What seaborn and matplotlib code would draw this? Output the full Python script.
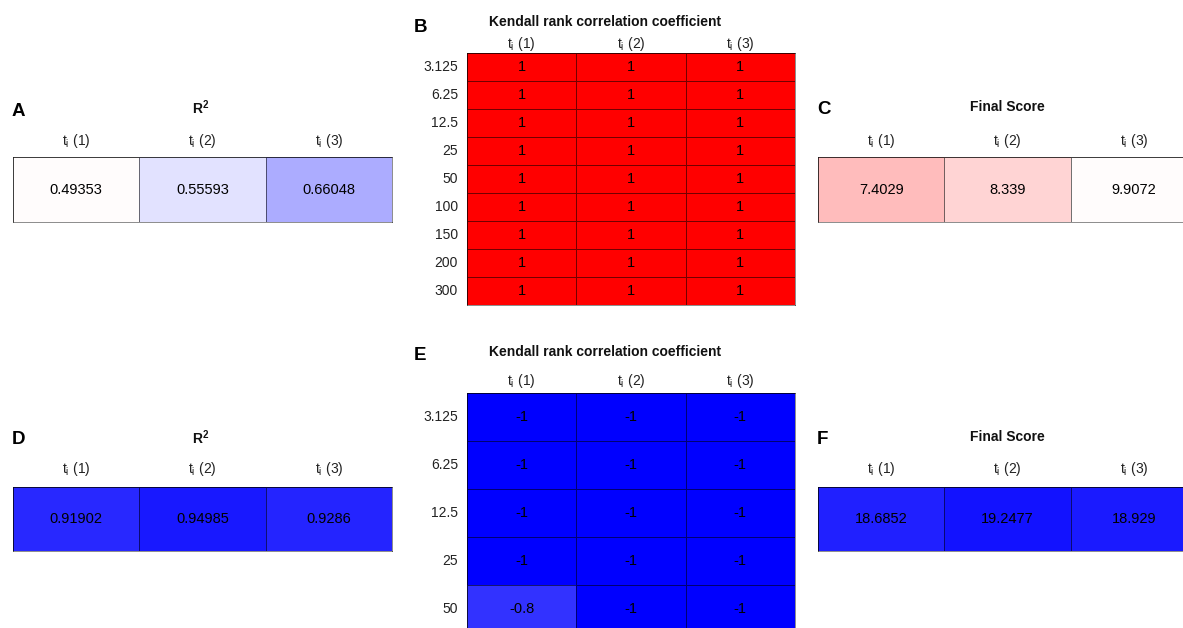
import numpy as np
import pandas as pd
import matplotlib
matplotlib.use("Agg")
import matplotlib.pyplot as plt
import seaborn as sns

# ---------------- data ----------------
col_labels = [r"$\mathrm{t_i}$ (1)", r"$\mathrm{t_i}$ (2)", r"$\mathrm{t_i}$ (3)"]

r2_top = [0.49353, 0.55593, 0.66048]
score_top = [7.4029, 8.339, 9.9072]
conc_top = ["3.125", "6.25", "12.5", "25", "50", "100", "150", "200", "300"]
kendall_top_c1 = [1, 1, 1, 1, 1, 1, 1, 1, 1]
kendall_top_c2 = [1, 1, 1, 1, 1, 1, 1, 1, 1]
kendall_top_c3 = [1, 1, 1, 1, 1, 1, 1, 1, 1]

r2_bottom = [0.91902, 0.94985, 0.9286]
score_bottom = [18.6852, 19.2477, 18.929]
conc_bottom = ["3.125", "6.25", "12.5", "25", "50"]
kendall_bot_c1 = [-1, -1, -1, -1, -0.8]
kendall_bot_c2 = [-1, -1, -1, -1, -1]
kendall_bot_c3 = [-1, -1, -1, -1, -1]

# ---------------- style ----------------
sns.set_theme(style="white")
plt.rcParams["font.family"] = ["Liberation Sans", "DejaVu Sans"]
plt.rcParams["mathtext.fontset"] = "custom"
plt.rcParams["mathtext.rm"] = "Liberation Sans"
plt.rcParams["mathtext.it"] = "Liberation Sans:italic"
plt.rcParams["mathtext.bf"] = "Liberation Sans:bold"
plt.rcParams["axes.unicode_minus"] = False

W, H = 1183, 628
fig = plt.figure(figsize=(W / 100, H / 100), dpi=100)
fig.patch.set_facecolor("white")


def px_axes(l, t, r, b):
    return fig.add_axes([l / W, 1 - b / H, (r - l) / W, (b - t) / H])


LINEC = (0, 0, 0, 0.55)


def draw(ax, df, cmap, vmin, vmax, xpad, show_rows=False, ypad=6.5):
    labels = df.map(lambda v: format(v, "g")).values
    sns.heatmap(df, ax=ax, cmap=cmap, vmin=vmin, vmax=vmax, annot=labels,
                fmt="", cbar=False, linewidths=0.7, linecolor=LINEC,
                annot_kws={"color": "black", "fontsize": 10.5})
    ax.xaxis.tick_top()
    ax.set_xticklabels(col_labels, fontsize=10, rotation=0)
    ax.tick_params(axis="x", length=0, pad=xpad, colors="#222222")
    ax.set_xlabel("")
    ax.set_ylabel("")
    if show_rows:
        ax.set_yticklabels(df.index, rotation=0, fontsize=10)
        ax.tick_params(axis="y", length=0, pad=ypad, colors="#222222")
    else:
        ax.set_yticks([])
    for s in ax.spines.values():
        s.set_visible(True)
        s.set_color((0, 0, 0, 0.45))
        s.set_linewidth(0.7)


# Panel A
axA = px_axes(13, 157, 392, 222)
dfA = pd.DataFrame([r2_top], columns=col_labels)
draw(axA, dfA, "bwr_r", 0, 1, xpad=4.8)

# Panel B
axB = px_axes(467, 53, 795, 305)
dfB = pd.DataFrame({col_labels[0]: kendall_top_c1, col_labels[1]: kendall_top_c2,
                    col_labels[2]: kendall_top_c3}, index=conc_top)
draw(axB, dfB, "bwr", -1, 1, xpad=0.2, show_rows=True)

# Panel C
axC = px_axes(818, 157, 1197, 222)
dfC = pd.DataFrame([score_top], columns=col_labels)
draw(axC, dfC, "bwr_r", 0, 20, xpad=4.8)

# Panel D
axD = px_axes(13, 487, 392, 551)
dfD = pd.DataFrame([r2_bottom], columns=col_labels)
draw(axD, dfD, "bwr_r", 0, 1, xpad=6.3)

# Panel E
axE = px_axes(467, 393, 795, 633)
dfE = pd.DataFrame({col_labels[0]: kendall_bot_c1, col_labels[1]: kendall_bot_c2,
                    col_labels[2]: kendall_bot_c3}, index=conc_bottom)
draw(axE, dfE, "bwr", -1, 1, xpad=1.8, show_rows=True)

# Panel F
axF = px_axes(818, 487, 1197, 551)
dfF = pd.DataFrame([score_bottom], columns=col_labels)
draw(axF, dfF, "bwr_r", 0, 20, xpad=6.3)


def ftext(x, y, s, **kw):
    fig.text(x / W, 1 - y / H, s, **kw)


title_kw = dict(fontsize=10, fontweight="bold", ha="center", va="center", color="#111111")
letter_kw = dict(fontsize=13.5, fontweight="bold", ha="left", va="center", color="black")

ftext(201, 108, r"R$^{\mathbf{2}}$", **title_kw)
ftext(605, 22, "Kendall rank correlation coefficient", **title_kw)
ftext(1007, 107, "Final Score", **title_kw)
ftext(201, 438, r"R$^{\mathbf{2}}$", **title_kw)
ftext(605, 352, "Kendall rank correlation coefficient", **title_kw)
ftext(1007, 437, "Final Score", **title_kw)

ftext(12, 112, "A", **letter_kw)
ftext(414, 28, "B", **letter_kw)
ftext(817, 110, "C", **letter_kw)
ftext(12, 440, "D", **letter_kw)
ftext(414, 356, "E", **letter_kw)
ftext(817, 440, "F", **letter_kw)

fig.savefig("out.png", dpi=100, facecolor="white")
